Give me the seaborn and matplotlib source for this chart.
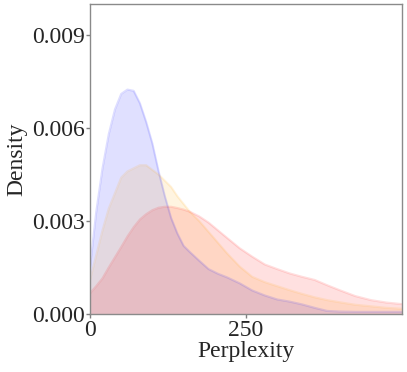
import numpy as np
import pandas as pd
import matplotlib
matplotlib.use("Agg")
import matplotlib.pyplot as plt
import seaborn as sns

# density curves (perplexity -> density)
grid = [0, 10, 20, 30, 40, 50, 60, 70, 80, 90, 100, 110, 120, 130, 140, 150, 160,
        175, 190, 205, 220, 240, 260, 280, 300, 320, 340, 360, 380, 400, 425, 450, 475, 500]
blue_density = [0.0015, 0.0033, 0.0047, 0.0058, 0.0066, 0.0071, 0.00724, 0.0072, 0.0068, 0.0062,
                0.0055, 0.0046, 0.0038, 0.0031, 0.0026, 0.0022, 0.0020, 0.00172, 0.00145, 0.0013,
                0.00118, 0.00099, 0.00076, 0.0006, 0.00047, 0.0004, 0.00031, 0.0002, 0.0001,
                0.00008, 0.00007, 0.00007, 0.00007, 0.00007]
orange_density = [0.0011, 0.0019, 0.0027, 0.0034, 0.0039, 0.0044, 0.0046, 0.0047, 0.0048, 0.0048,
                  0.00465, 0.0045, 0.0043, 0.0041, 0.0038, 0.00355, 0.0033, 0.0030, 0.00265, 0.0023,
                  0.00195, 0.00153, 0.0012, 0.00103, 0.0009, 0.00077, 0.00065, 0.00054, 0.00045,
                  0.00038, 0.0003, 0.00025, 0.0002, 0.00017]
red_density = [0.00067, 0.0009, 0.00115, 0.0015, 0.00183, 0.00216, 0.0025, 0.0028, 0.00305, 0.00322,
               0.00335, 0.00343, 0.00346, 0.00346, 0.00342, 0.00337, 0.0033, 0.00315, 0.00295, 0.0027,
               0.00245, 0.00212, 0.00185, 0.0016, 0.00145, 0.00131, 0.0012, 0.0011, 0.00093,
               0.00077, 0.00058, 0.00045, 0.00037, 0.00032]
series = {"blue": blue_density, "orange": orange_density, "red": red_density}

sns.set_style("white")
plt.rcParams["font.family"] = "serif"
plt.rcParams["font.serif"] = ["Liberation Serif", "Times New Roman", "DejaVu Serif"]

fig = plt.figure(figsize=(4.07, 3.72), dpi=100)
ax = fig.add_axes([90 / 407, 58 / 372, 312 / 407, 310 / 372])

for color, dens in series.items():
    df = pd.DataFrame({"Perplexity": grid, "Density": dens})
    ax.fill_between(df["Perplexity"], df["Density"], color=color, alpha=0.12, linewidth=0)
    sns.lineplot(data=df, x="Perplexity", y="Density", color=color, alpha=0.13,
                 linewidth=1.5, ax=ax)

ax.set_xlim(0, 500)
ax.set_ylim(0, 0.01)
ax.set_xticks([0, 250])
ax.set_yticks([0, 0.003, 0.006, 0.009])
ax.set_yticklabels(["0.000", "0.003", "0.006", "0.009"])
ax.tick_params(axis="both", labelsize=17, direction="out", length=3, width=1,
               color="#808080", pad=1, left=True, bottom=True)
ax.set_xlabel("Perplexity", fontsize=17, labelpad=0)
ax.set_ylabel("Density", fontsize=17, labelpad=3)
for s in ax.spines.values():
    s.set_color("#8a8a8a")
    s.set_linewidth(1)

fig.savefig("out.png", dpi=100)
